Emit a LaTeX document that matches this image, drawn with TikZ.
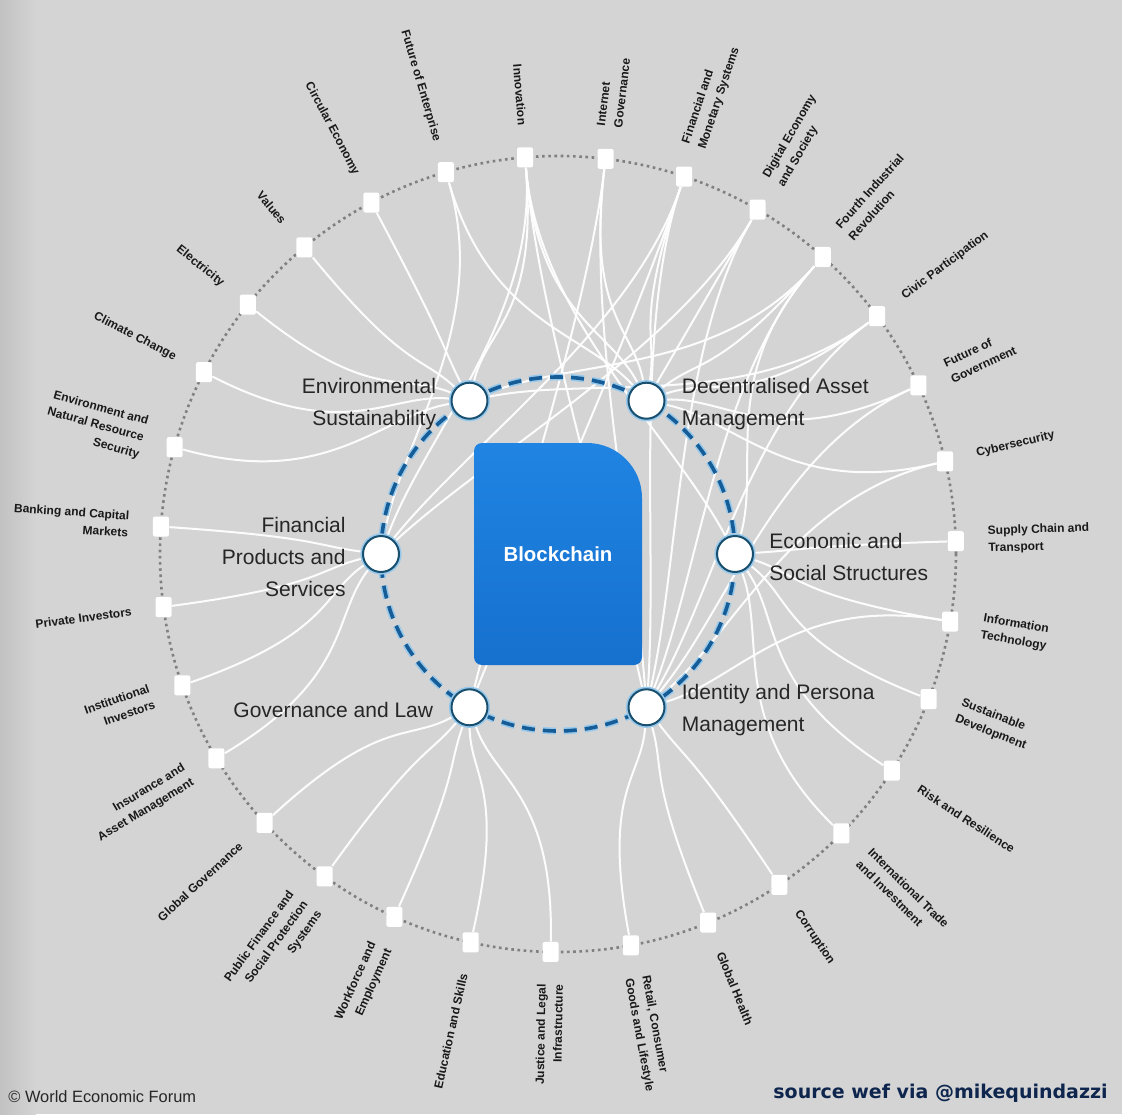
\documentclass[tikz,border=0pt]{standalone}
\usepackage{fontspec}
\setmainfont{Liberation Sans}
\newfontfamily\srcfont{DejaVu Sans}
\usepackage{xcolor}
\usetikzlibrary{calc,positioning}
\definecolor{paper}{RGB}{212,212,212}
\definecolor{ringblue}{RGB}{22,92,150}
\definecolor{ringglow}{RGB}{150,200,235}
\definecolor{hubedge}{RGB}{24,78,110}
\definecolor{chaintop}{RGB}{32,132,226}
\definecolor{chainbot}{RGB}{22,112,206}
\definecolor{navy}{RGB}{14,38,78}
\pgfdeclarelayer{back}
\pgfdeclarelayer{links}
\pgfsetlayers{back,links,main}
\tikzset{
  every picture/.style={line join=round, line cap=round},
  doc/.style={fill=white, minimum width=8pt, minimum height=10pt, inner sep=0pt, rounded corners=1pt},
  hub/.style={circle, fill=white, draw=hubedge, line width=1pt, minimum size=18pt, inner sep=0pt,
    preaction={draw=ringglow, line width=2.6pt}},
  topic/.style={font=\fontsize{6}{8.6}\selectfont\bfseries, text=black!90, inner sep=0pt},
  area/.style={font=\fontsize{10.5}{16}\selectfont, text=black!85, inner sep=0pt, yshift=-1.5pt},
  link/.style={white, line width=1pt, opacity=.95},
}
\begin{document}
\begin{tikzpicture}[x=0.5pt,y=0.5pt]
\begin{pgfonlayer}{back}
\fill[paper] (-558,-560) rectangle (564,554);
\shade[left color=black!24, right color=paper] (-558,-560) rectangle (-522,554);
\end{pgfonlayer}
\useasboundingbox (-558,-560) rectangle (564,554);
\coordinate (o) at (0,0);

% outer ring of topics
\draw[black!50, line width=1.3pt, line cap=butt, dash pattern=on 1.3pt off 1.8pt] (o) circle[radius=199pt];
\foreach \txt [count=\i from 0] in {Innovation, {Internet\\Governance}, {Financial and\\Monetary Systems},
  {Digital Economy\\and Society}, {Fourth Industrial\\Revolution}, Civic Participation, {Future of\\Government},
  Cybersecurity, {Supply Chain and\\Transport}, {Information\\Technology}, {Sustainable\\Development},
  Risk and Resilience, {International Trade\\and Investment}, Corruption, Global Health,
  {Retail, Consumer\\Goods and Lifestyle}, {Justice and Legal\\Infrastructure}, Education and Skills,
  {Workforce and\\Employment}, {Public Finance and\\Social Protection\\Systems}, Global Governance,
  {Insurance and\\Asset Management}, {Institutional\\Investors}, Private Investors,
  {Banking and Capital\\Markets}, {Environment and\\Natural Resource\\Security}, Climate Change,
  Electricity, Values, Circular Economy, Future of Enterprise}{
  \pgfmathsetmacro\ang{94.75-\i*360/31}
  \pgfmathtruncatemacro\flip{abs(\ang)>90}
  \node[doc] (s\i) at (\ang:398) {};
  \ifnum\flip=1
    \node[topic, anchor=east, align=right, rotate=\ang+180] at (\ang:430) {\txt};
  \else
    \node[topic, anchor=west, align=left, rotate=\ang] at (\ang:430) {\txt};
  \fi
}

% inner ring
\draw[ringglow, line width=3.4pt, line cap=butt, dash pattern=on 6.5pt off 4pt] (o) circle[radius=88.5pt];
\draw[ringblue, line width=1.8pt, line cap=butt, dash pattern=on 6.5pt off 4pt] (o) circle[radius=88.5pt];
\shade[top color=chaintop, bottom color=chainbot]
  (-84,-103) -- (-84,103) arc[start angle=180, end angle=90, radius=4pt] -- (29,111)
  arc[start angle=90, end angle=0, radius=27.5pt] -- (84,-103)
  arc[start angle=0, end angle=-90, radius=4pt] -- (-76,-111)
  arc[start angle=-90, end angle=-180, radius=4pt] -- cycle;
\node[font=\fontsize{10.2}{12}\selectfont\bfseries, text=white] (core) at (o) {Blockchain};

\node[hub] (eco) at (0:177) {};
\node[hub] (dec) at (60:177) {};
\node[hub] (env) at (120:177) {};
\node[hub] (fin) at (180:177) {};
\node[hub] (gov) at (240:177) {};
\node[hub] (idn) at (300:177) {};
\node[area, align=right, left=7pt of env] (envlbl) {Environmental\\Sustainability};
\node[area, align=left, right=8pt of dec] (declbl) {Decentralised Asset\\Management};
\node[area, align=left, right=7.5pt of eco] (ecolbl) {Economic and\\Social Structures};
\node[area, align=right, left=8pt of fin] (finlbl) {Financial\\Products and\\Services};
\node[area, align=right, left=8.5pt of gov] (govlbl) {Governance and Law};
\node[area, align=left, right=8pt of idn] (idnlbl) {Identity and Persona\\Management};

\begin{pgfonlayer}{links}
\foreach \i/\hb in {0/env,0/dec,0/fin,0/eco,0/idn,1/dec,1/gov,1/idn,2/dec,2/fin,2/idn,2/gov,
  3/dec,3/fin,3/idn,4/dec,4/eco,4/env,4/idn,5/dec,5/env,5/idn,6/dec,6/idn,7/dec,7/idn,
  8/eco,9/eco,9/idn,10/eco,11/eco,12/eco,13/idn,14/idn,15/idn,16/gov,17/gov,18/gov,19/gov,20/gov,
  21/fin,22/fin,23/fin,24/fin,25/env,26/env,27/env,28/env,29/env,30/fin,30/dec}
  \draw[link] (s\i) .. controls ($(s\i)!.4!(o)$) and ($(\hb)!.3!(s\i)$) .. (\hb);
\end{pgfonlayer}

\node[anchor=west, font=\fontsize{8.2}{10}\selectfont, text=black!85, inner sep=0pt] (wef) at (-550,-543) {© World Economic Forum};
\node[anchor=east, font=\srcfont\bfseries\fontsize{9.5}{11}\selectfont, text=navy, inner sep=0pt] (src) at (550,-539) {source wef via @mikequindazzi};
\end{tikzpicture}
\end{document}
